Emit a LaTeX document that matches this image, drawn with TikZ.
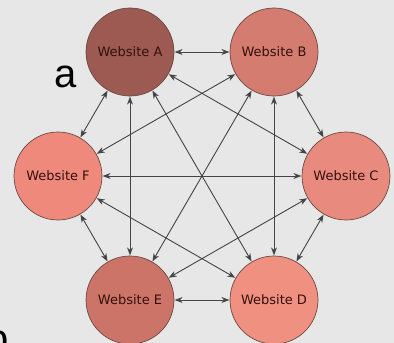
\documentclass[tikz,border=0pt]{standalone}
\usepackage{fontspec}
\setmainfont{DejaVu Sans}
\newfontfamily\slidefont{Liberation Sans}
\usetikzlibrary{arrows.meta}
\definecolor{bgc}{HTML}{E7E7E7}
\definecolor{cA}{HTML}{9C5A52}
\definecolor{cB}{HTML}{D47C70}
\definecolor{cC}{HTML}{E88A7E}
\definecolor{cD}{HTML}{EF9080}
\definecolor{cE}{HTML}{CC7468}
\definecolor{cF}{HTML}{EE897C}
\definecolor{txt}{HTML}{34100C}
\definecolor{edge}{HTML}{444444}
\definecolor{rim}{HTML}{6A4A46}
\tikzset{
  site/.style={circle, draw=rim, line width=0.7pt, minimum size=88pt, inner sep=0pt,
    text=txt, font=\fontsize{13}{15}\selectfont},
  link/.style={draw=edge, line width=0.9pt, {Stealth[length=8pt,width=6pt]}-{Stealth[length=8pt,width=6pt]}, shorten <=0.3pt, shorten >=0.3pt}
}
\begin{document}
\begin{tikzpicture}[x=1pt,y=-1pt]
\fill[bgc] (0,0) rectangle (394,343);
\useasboundingbox (0,0) rectangle (394,343);
\node[anchor=base west, inner sep=0pt, text=black, font=\slidefont\fontsize{40}{44}\selectfont] (ta) at (54,87) {a};
\node[anchor=base west, inner sep=0pt, text=black, font=\slidefont\fontsize{40}{44}\selectfont] (tp) at (-14,352) {p};
\node[site, fill=cA] (A) at (130,52) {Website A};
\node[site, fill=cB] (B) at (274,52) {Website B};
\node[site, fill=cC] (C) at (346,176) {Website C};
\node[site, fill=cD] (D) at (274,300) {Website D};
\node[site, fill=cE] (E) at (130,300) {Website E};
\node[site, fill=cF] (F) at (58,176) {Website F};
\foreach \u/\v in {A/B,A/C,A/D,A/E,A/F,B/C,B/D,B/E,B/F,C/D,C/E,C/F,D/E,D/F,E/F}
  \draw[link] (\u) -- (\v);
\end{tikzpicture}
\end{document}
